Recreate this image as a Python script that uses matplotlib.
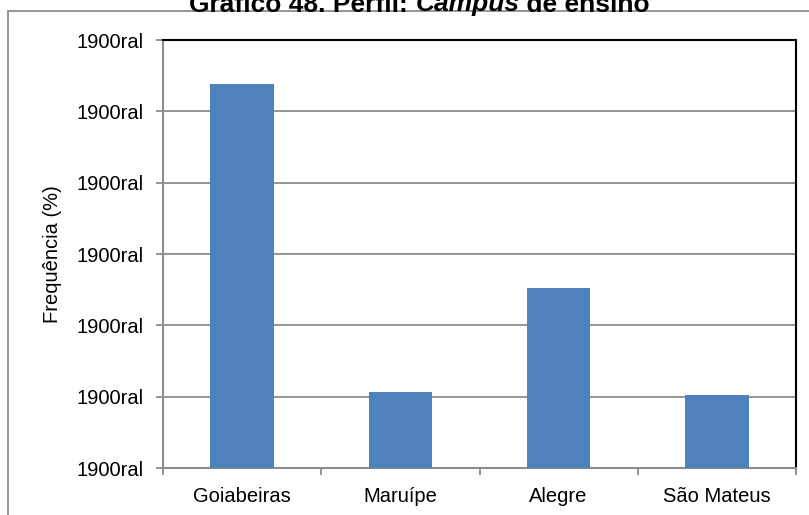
import matplotlib
matplotlib.use("Agg")
import matplotlib.pyplot as plt
from matplotlib.patches import Rectangle
from matplotlib.ticker import FixedLocator, FuncFormatter

plt.rcParams['font.family'] = ['Liberation Sans', 'DejaVu Sans']

campus = ["Goiabeiras", "Maruípe", "Alegre", "São Mateus"]
frequencia = [53.8, 10.6, 25.2, 10.2]
y_ticks = [0, 10, 20, 30, 40, 50, 60]
y_tick_text = "1900ral"
title_parts = [("Gráfico 48. Perfil: ", "normal"), ("Campus", "italic"),
               (" de ensino", "normal")]

W, H = 809, 515
fig = plt.figure(figsize=(W / 100, H / 100), dpi=100)

# outer chart-area border
fig.patches.append(Rectangle((8 / W, -0.1), 1.0, (H - 11) / H + 0.1,
                             transform=fig.transFigure, fill=False,
                             edgecolor="#8c8c8c", linewidth=1.3))

ax = fig.add_axes([163 / W, 1 - 468 / H, (796 - 163) / W, (468 - 40) / H])

x = list(range(len(campus)))
ax.bar(x, frequencia, width=0.40, color="#4F81BD", zorder=3)

ax.set_xlim(-0.5, len(campus) - 0.5)
ax.set_ylim(0, 60)

ax.yaxis.set_major_locator(FixedLocator(y_ticks))
ax.yaxis.set_major_formatter(FuncFormatter(lambda v, p: y_tick_text))
ax.grid(axis="y", color="#8c8c8c", linewidth=1.3, zorder=0)

ax.set_xticks(x)
ax.set_xticklabels(campus)
ax.set_xticks([i - 0.5 for i in range(len(campus) + 1)], minor=True)
ax.tick_params(axis="x", which="major", length=0, pad=14, labelsize=14.5)
ax.tick_params(axis="x", which="minor", length=5, width=1.3, color="#8c8c8c",
               direction="out")
ax.tick_params(axis="y", length=5, width=1.3, color="#8c8c8c", direction="out",
               pad=9, labelsize=14.5)

for side in ("left", "bottom"):
    ax.spines[side].set_color("#8c8c8c")
    ax.spines[side].set_linewidth(1.5)
for side in ("top", "right"):
    ax.spines[side].set_color("black")
    ax.spines[side].set_linewidth(1.5)

ax.set_ylabel("Frequência (%)", fontsize=14.5)
ax.yaxis.set_label_coords((62 - 163) / (796 - 163), 0.5)

# title in mixed styles, pieces laid side by side and centred on the chart area
renderer = fig.canvas.get_renderer()
title_y = 1 - 11.5 / H
title_centre = 419.5
pieces = []
for txt, style in title_parts:
    t = fig.text(0, title_y, txt, ha="left", va="baseline", fontsize=19,
                 fontweight="bold", fontstyle=style)
    pieces.append(t)
widths = [t.get_window_extent(renderer).width for t in pieces]
x0 = title_centre - sum(widths) / 2
for t, w in zip(pieces, widths):
    t.set_x(x0 / W)
    x0 += w

fig.savefig("out.png", dpi=100)
